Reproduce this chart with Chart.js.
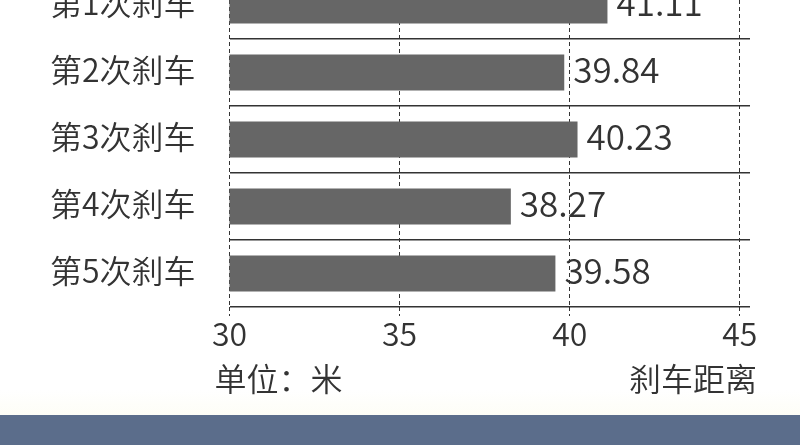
<!DOCTYPE html>
<html>
<head>
<meta charset="utf-8">
<script src="https://cdn.jsdelivr.net/npm/chart.js@4"></script>
<style>
  html, body { margin: 0; padding: 0; width: 800px; height: 445px; overflow: hidden; background: #ffffff; position: relative; }
  #cream { position: absolute; left: 0; top: 390px; width: 800px; height: 25px; background: linear-gradient(#ffffff, #fdfdf6); z-index: 0; }
  #wrap { position: absolute; left: 0; top: -28px; width: 800px; height: 473px; z-index: 1; }
  #band { position: absolute; left: 0; top: 415px; width: 800px; height: 30px; background: #5b6d8b; z-index: 2; }
</style>
</head>
<body>
<div id="cream"></div>
<div id="wrap"><canvas id="c"></canvas></div>
<div id="band"></div>
<script>
const categories = ['第1次刹车', '第2次刹车', '第3次刹车', '第4次刹车', '第5次刹车'];
const brakingDistance = [41.11, 39.84, 40.23, 38.27, 39.58];
const tickValues = [30, 35, 40, 45];
const unitLabel = '单位：米';
const axisLabel = '刹车距离';

const FONT = '"Noto Sans CJK SC", "Noto Sans", sans-serif';
const WEIGHT = 350;
const TEXT = '#333333';

const valueLabels = {
  id: 'valueLabels',
  afterDatasetsDraw(chart) {
    const ctx = chart.ctx;
    const meta = chart.getDatasetMeta(0);
    ctx.save();
    ctx.font = WEIGHT + ' 35px ' + FONT;
    ctx.fillStyle = TEXT;
    ctx.textAlign = 'left';
    ctx.textBaseline = 'middle';
    meta.data.forEach((bar, i) => {
      ctx.fillText(brakingDistance[i].toFixed(2), bar.x + 9, bar.y - 3);
    });
    ctx.restore();
  }
};

const footTexts = {
  id: 'footTexts',
  afterDraw(chart) {
    const ctx = chart.ctx;
    const x = chart.scales.x;
    const y = chart.chartArea.bottom + 72;
    ctx.save();
    ctx.font = WEIGHT + ' 32px ' + FONT;
    ctx.fillStyle = TEXT;
    ctx.textBaseline = 'middle';
    ctx.textAlign = 'left';
    ctx.fillText(unitLabel, x.getPixelForValue(tickValues[0]) - 15, y);
    ctx.textAlign = 'right';
    ctx.fillText(axisLabel, chart.chartArea.right + 7, y);
    ctx.restore();
  }
};

new Chart(document.getElementById('c'), {
  type: 'bar',
  data: {
    labels: categories,
    datasets: [{
      data: brakingDistance,
      backgroundColor: '#666666',
      borderWidth: 0,
      categoryPercentage: 1,
      barPercentage: 0.537
    }]
  },
  options: {
    indexAxis: 'y',
    responsive: true,
    maintainAspectRatio: false,
    animation: false,
    layout: { padding: { left: 0, right: 50, top: 0, bottom: 0 } },
    plugins: { legend: { display: false }, tooltip: { enabled: false } },
    scales: {
      x: {
        type: 'linear',
        min: 30,
        max: 45.3,
        afterBuildTicks: (s) => { s.ticks = tickValues.map(v => ({ value: v })); },
        afterFit: (s) => { s.height = 138; s.paddingLeft = 0; s.paddingRight = 0; },
        border: { display: false, dash: [4, 3] },
        grid: {
          color: '#333333',
          lineWidth: 1,
          drawTicks: true,
          tickLength: 9,
          tickBorderDash: [4, 3],
          tickColor: '#333333'
        },
        ticks: {
          color: TEXT,
          font: { family: FONT, size: 32, weight: WEIGHT, lineHeight: 1.1 },
          padding: 0,
          maxRotation: 0,
          autoSkip: false
        }
      },
      y: {
        type: 'category',
        offset: true,
        afterFit: (s) => { s.width = 229.5; s.paddingTop = 0; s.paddingBottom = 0; },
        border: { display: false },
        grid: {
          offset: true,
          color: '#333333',
          lineWidth: 1.4,
          drawTicks: false
        },
        ticks: {
          color: TEXT,
          font: { family: FONT, size: 32, weight: WEIGHT },
          padding: 34,
          labelOffset: -3,
          autoSkip: false
        }
      }
    }
  },
  plugins: [valueLabels, footTexts]
});
</script>
</body>
</html>
